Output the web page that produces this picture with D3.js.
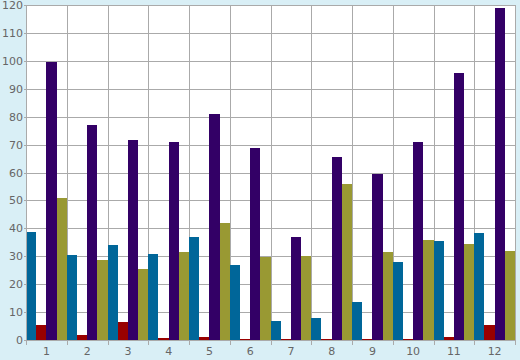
<!DOCTYPE html>
<html>
<head>
<meta charset="utf-8">
<script src="https://cdn.jsdelivr.net/npm/d3@7"></script>
<style>
  html, body { margin: 0; padding: 0; background: #d9eff6; }
  svg { display: block; }
  .tick text { font-family: "DejaVu Sans", sans-serif; font-size: 11px; fill: #666; }
</style>
</head>
<body>
<svg id="chart" width="520" height="360"></svg>
<script>
const categories = ["1","2","3","4","5","6","7","8","9","10","11","12"];
const seriesNames = ["Series A", "Series B", "Series C", "Series D"];
const seriesA = [38.7, 30.4, 34.0, 30.8, 36.9, 26.9, 6.8, 7.9, 13.6, 27.9, 35.5, 38.3];
const seriesB = [5.4, 1.8, 6.4, 0.6, 1.1, 0.4, 0.4, 0.4, 0.4, 0.4, 1.1, 5.4];
const seriesC = [99.6, 77.0, 71.6, 70.9, 80.9, 68.8, 36.9, 65.5, 59.5, 70.9, 95.6, 118.9];
const seriesD = [50.9, 28.7, 25.4, 31.5, 41.9, 29.7, 30.1, 55.9, 31.5, 35.8, 34.4, 31.9];
const yTicks = [0,10,20,30,40,50,60,70,80,90,100,110,120];
const colors = ["#006699", "#990000", "#330066", "#999933"];

const allSeries = [seriesA, seriesB, seriesC, seriesD];
const margin = {left: 26, right: 5, top: 5, bottom: 20};
const W = 520, H = 360;
const svg = d3.select("#chart");

const x = d3.scaleBand().domain(categories).range([margin.left, W - margin.right]).padding(0);
const xs = d3.scaleBand().domain(seriesNames).range([0, x.bandwidth()]).padding(0);
const y = d3.scaleLinear().domain([0, 120]).range([H - margin.bottom, margin.top]);

// plot background
svg.append("rect")
  .attr("x", margin.left).attr("y", margin.top)
  .attr("width", W - margin.left - margin.right)
  .attr("height", H - margin.top - margin.bottom)
  .attr("fill", "#ffffff");

// horizontal grid
svg.append("g").selectAll("line").data(yTicks).join("line")
  .attr("x1", margin.left - 2).attr("x2", W - margin.right)
  .attr("y1", d => Math.round(y(d)) + 0.5).attr("y2", d => Math.round(y(d)) + 0.5)
  .attr("stroke", "#aaaaaa").attr("stroke-width", 1);

// vertical grid at category boundaries
const bounds = categories.map(c => x(c)).concat([x(categories[categories.length-1]) + x.bandwidth()]);
svg.append("g").selectAll("line").data(bounds).join("line")
  .attr("x1", d => Math.round(d) + 0.5).attr("x2", d => Math.round(d) + 0.5)
  .attr("y1", margin.top).attr("y2", H - margin.bottom + 5)
  .attr("stroke", "#aaaaaa").attr("stroke-width", 1);

// bars
const groups = svg.append("g").selectAll("g").data(categories).join("g")
  .attr("transform", c => `translate(${x(c)},0)`);
groups.selectAll("rect")
  .data((c, i) => allSeries.map((s, k) => ({name: seriesNames[k], v: s[i], k})))
  .join("rect")
  .attr("x", d => xs(d.name))
  .attr("width", xs.bandwidth())
  .attr("y", d => y(d.v))
  .attr("height", d => Math.max(1, y(0) - y(d.v)))
  .attr("fill", d => colors[d.k])
  .attr("shape-rendering", "crispEdges");

// axes labels
const yAxis = d3.axisLeft(y).tickValues(yTicks).tickSize(0).tickPadding(3);
const gy = svg.append("g").attr("transform", `translate(${margin.left},0)`).call(yAxis);
gy.select(".domain").remove();

const xAxis = d3.axisBottom(x).tickSize(0).tickPadding(7);
const gx = svg.append("g").attr("transform", `translate(0,${H - margin.bottom})`).call(xAxis);
gx.select(".domain").remove();
gx.selectAll(".tick text").attr("dy", "0.71em");

// left axis line
svg.append("line")
  .attr("x1", margin.left + 0.5).attr("x2", margin.left + 0.5)
  .attr("y1", margin.top).attr("y2", H - margin.bottom)
  .attr("stroke", "#aaaaaa");
</script>
</body>
</html>
